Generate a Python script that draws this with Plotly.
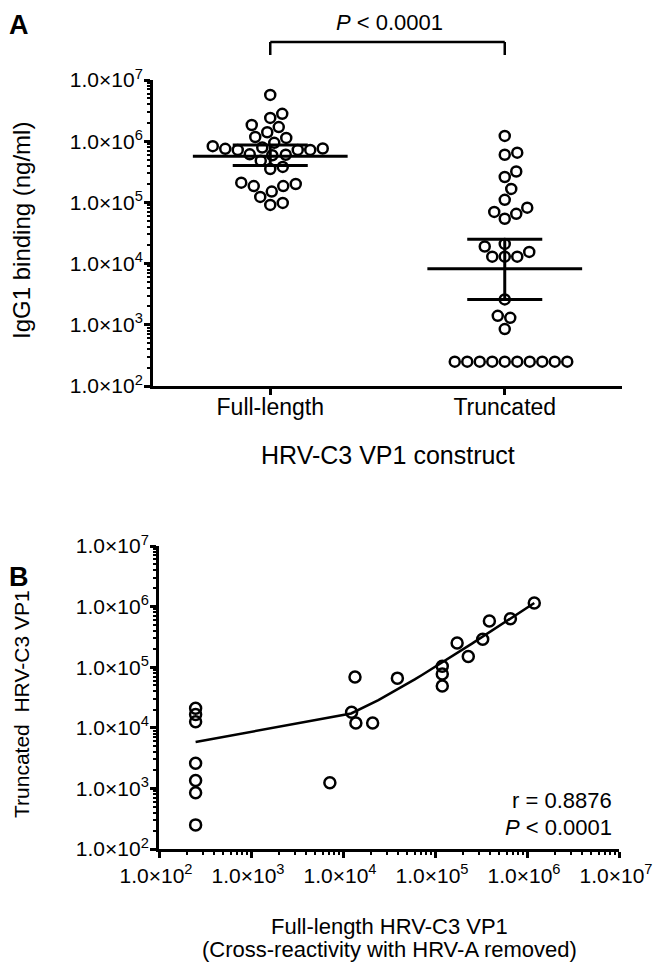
import numpy as np
import plotly.graph_objects as go

W, H = 662, 970          # window size
OFF = 8                  # default page body margin
FW, FH = W - 2 * OFF, H - 2 * OFF   # figure size so that the page fits the window

# ---------------- data: panel A ----------------
groups = ["Full-length", "Truncated"]
full_length = [5.7e6, 2.8e6, 2.4e6, 1.84e6, 1.7e6, 1.4e6, 1.13e6, 1.17e6, 9.4e5, 8.3e5,
               7.6e5, 7.2e5, 7.2e5, 7.2e5, 7.5e5, 7.9e5, 6.0e5, 6.1e5, 5.9e5, 4.8e5,
               3.5e5, 3.8e5, 2.1e5, 1.85e5, 1.85e5, 2.0e5, 1.5e5, 1.23e5, 9.1e4, 9.8e4]
truncated = [1.22e6, 6.0e5, 6.5e5, 3.2e5, 2.6e5, 1.66e5, 1.1e5, 8.2e4, 6.5e4, 7.0e4, 5.4e4,
             2.1e4, 1.55e4, 1.9e4, 1.3e4, 1.3e4, 1.3e4, 2.6e3, 1.3e3, 1.4e3, 8.5e2,
             250, 250, 250, 250, 250, 250, 250, 250, 250, 250]
group_mean = [5.7e5, 8.2e3]
ci_upper = [8.7e5, 2.5e4]
ci_lower = [4.0e5, 2.6e3]

# ---------------- data: panel B ----------------
b_full_length = [250, 250, 250, 250, 250, 250, 250,
                 7.2e3, 1.24e4, 1.38e4, 2.1e4, 1.35e4, 3.9e4, 1.2e5, 1.2e5, 1.2e5,
                 1.74e5, 2.3e5, 3.3e5, 3.9e5, 6.6e5, 1.2e6]
b_truncated = [2.1e4, 1.66e4, 1.26e4, 2.6e3, 1.35e3, 850, 250,
               1.24e3, 1.8e4, 1.2e4, 1.2e4, 6.9e4, 6.6e4, 1.04e5, 7.7e4, 4.9e4,
               2.5e5, 1.5e5, 2.9e5, 5.8e5, 6.3e5, 1.15e6]
fit_intercept = 5.6e3
fit_slope = 0.95

exponents = [2, 3, 4, 5, 6, 7]
tick_vals = [10.0 ** e for e in exponents]
tick_text = ["1.0×10<sup>%d</sup>" % e for e in exponents]
minor_vals = [k * 10.0 ** e for e in exponents[:-1] for k in range(2, 10)]

FONT = "Liberation Sans, Arial, sans-serif"
FS = 21

# layout geometry (window pixels)
A_left, A_right, A_top, A_bot = 153, 622, 80, 386
B_left, B_right, B_top, B_bot = 159, 619, 546, 849


def px(xp):
    return (xp - OFF) / FW


def py(yp):
    return 1 - (yp - OFF) / FH


def swarm(values, px_per_unit, px_per_decade, diam):
    logs = np.log10(np.array(values, dtype=float))
    order = np.argsort(logs, kind="stable")
    placed = []
    offs = np.zeros(len(values))
    for i in order:
        yp = logs[i] * px_per_decade
        best = None
        k = 0
        while best is None:
            for sgn in ([1] if k == 0 else [1, -1]):
                cand = sgn * k * 0.5
                if all((cand - ox) ** 2 + (yp - oy) ** 2 >= diam ** 2 for ox, oy in placed):
                    best = cand
                    break
            k += 1
        placed.append((best, yp))
        offs[i] = best / px_per_unit
    return offs


unit_px = (A_right - A_left) / 2.0
decade_px = (A_bot - A_top) / 5.0

fig = go.Figure()

marker_style = dict(symbol="circle", size=10, color="rgba(0,0,0,0)",
                    line=dict(color="black", width=2.5))

for gi, vals in enumerate([full_length, truncated]):
    offs = swarm(vals, unit_px, decade_px, 12.5)
    fig.add_trace(go.Scatter(x=gi + offs, y=vals, mode="markers", marker=marker_style,
                             xaxis="x", yaxis="y", showlegend=False, hoverinfo="skip"))

for gi in range(len(groups)):
    m, lo, hi = group_mean[gi], ci_lower[gi], ci_upper[gi]
    line = dict(color="black", width=3)
    fig.add_trace(go.Scatter(x=[gi - 0.33, gi + 0.33], y=[m, m], mode="lines", line=line,
                             xaxis="x", yaxis="y", showlegend=False, hoverinfo="skip"))
    fig.add_trace(go.Scatter(x=[gi, gi], y=[lo, hi], mode="lines", line=line,
                             xaxis="x", yaxis="y", showlegend=False, hoverinfo="skip"))
    for v in (lo, hi):
        fig.add_trace(go.Scatter(x=[gi - 0.16, gi + 0.16], y=[v, v], mode="lines", line=line,
                                 xaxis="x", yaxis="y", showlegend=False, hoverinfo="skip"))

# panel B
fig.add_trace(go.Scatter(x=b_full_length, y=b_truncated, mode="markers",
                         marker=dict(symbol="circle", size=11, color="rgba(0,0,0,0)",
                                     line=dict(color="black", width=2.5)),
                         xaxis="x2", yaxis="y2", showlegend=False, hoverinfo="skip"))
fx = np.linspace(min(b_full_length), max(b_full_length), 101)
fy = fit_intercept + fit_slope * fx
fig.add_trace(go.Scatter(x=fx, y=fy, mode="lines", line=dict(color="black", width=2.5),
                         xaxis="x2", yaxis="y2", showlegend=False, hoverinfo="skip"))

tickfont = dict(family=FONT, size=FS, color="black")
minor = dict(tickmode="array", tickvals=minor_vals, ticks="outside", ticklen=3,
             tickwidth=2, tickcolor="black", showgrid=False)
log_axis = dict(type="log", range=[2, 7], tickmode="array", tickvals=tick_vals,
                ticktext=tick_text, ticks="outside", ticklen=6, tickwidth=3,
                tickcolor="black", showline=True, linewidth=3, linecolor="black",
                showgrid=False, zeroline=False, tickfont=tickfont, minor=minor,
                automargin=False, ticklabeloverflow="allow")

fig.update_layout(
    width=FW, height=FH,
    margin=dict(l=0, r=0, t=0, b=0, pad=0, autoexpand=False),
    paper_bgcolor="white", plot_bgcolor="white",
    font=dict(family=FONT, color="black"),
    showlegend=False,
    xaxis=dict(domain=[px(A_left), px(A_right)], range=[-0.5, 1.5], anchor="y",
               tickmode="array", tickvals=[0, 1], ticktext=groups, ticks="outside",
               ticklen=6, tickwidth=3, tickcolor="black", showline=True, linewidth=3,
               linecolor="black", showgrid=False, zeroline=False,
               tickfont=dict(family=FONT, size=23, color="black"),
               automargin=False, ticklabelstandoff=-8, ticklabeloverflow="allow"),
    yaxis=dict(domain=[py(A_bot), py(A_top)], anchor="x", ticklabelstandoff=-3, **log_axis),
    xaxis2=dict(domain=[px(B_left), px(B_right)], anchor="y2", ticklabelshift=-3, **log_axis),
    yaxis2=dict(domain=[py(B_bot), py(B_top)], anchor="x2", ticklabelstandoff=-3, **log_axis),
)

# bracket
by, bleg = py(42), py(55)
bline = dict(color="black", width=2.5)
fig.add_shape(type="line", xref="x", yref="paper", x0=0, x1=1, y0=by, y1=by, line=bline)
fig.add_shape(type="line", xref="x", yref="paper", x0=0, x1=0, y0=by, y1=bleg, line=bline)
fig.add_shape(type="line", xref="x", yref="paper", x0=1, x1=1, y0=by, y1=bleg, line=bline)


def ann(text, x, y, size=FS, **kw):
    fig.add_annotation(text=text, x=px(x), y=py(y), xref="paper", yref="paper",
                       showarrow=False, font=dict(family=FONT, size=size, color="black"), **kw)


ann("<b>A</b>", 19, 25, size=27, xanchor="center", yanchor="middle")
ann("<b>B</b>", 19, 577, size=27, xanchor="center", yanchor="middle")
ann("<i>P</i> < 0.0001", 389, 22, size=22, xanchor="center", yanchor="middle")
ann("IgG1 binding (ng/ml)", 21, 231, size=24, textangle=-90,
    xanchor="center", yanchor="middle")
ann("HRV-C3 VP1 construct", (A_left + A_right) / 2, 455, size=25,
    xanchor="center", yanchor="middle")
ann("Truncated\u00a0 HRV-C3 VP1", 21, 704, size=21, textangle=-90,
    xanchor="center", yanchor="middle")
ann("Full-length HRV-C3 VP1", (B_left + B_right) / 2, 926, size=22,
    xanchor="center", yanchor="middle")
ann("(Cross-reactivity with HRV-A removed)", (B_left + B_right) / 2, 949, size=22,
    xanchor="center", yanchor="middle")
ann("r = 0.8876", 614, 800, size=22, xanchor="right", yanchor="middle")
ann("<i>P</i> < 0.0001", 614, 827, size=22, xanchor="right", yanchor="middle")

fig.write_html("out.html")
